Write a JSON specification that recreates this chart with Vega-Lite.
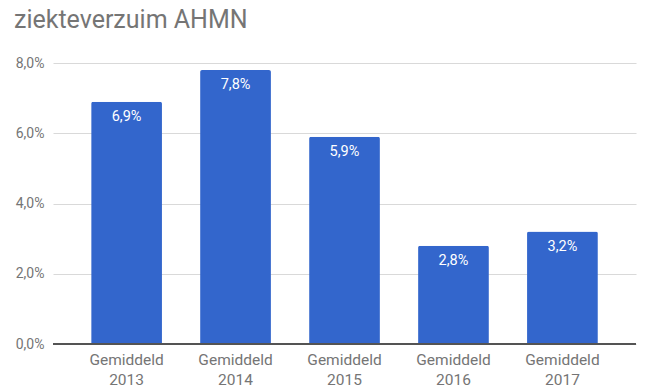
{
  "$schema": "https://vega.github.io/schema/vega-lite/v6.json",
  "width": 583,
  "height": 281,
  "autosize": "none",
  "padding": {"left": 53, "top": 63, "right": 23, "bottom": 48},
  "title": {
    "text": "ziekteverzuim AHMN",
    "anchor": "start",
    "frame": "group",
    "dx": -39,
    "offset": 23,
    "font": "Roboto",
    "fontSize": 25,
    "fontWeight": "normal",
    "color": "#757575"
  },
  "config": {
    "locale": {"number": {"decimal": ",", "thousands": ".", "grouping": [3], "currency": ["€", ""]}},
    "view": {"stroke": null},
    "font": "Roboto"
  },
  "data": {
    "values": [
      {"periode": "Gemiddeld 2013", "verzuim": 0.069},
      {"periode": "Gemiddeld 2014", "verzuim": 0.078},
      {"periode": "Gemiddeld 2015", "verzuim": 0.059},
      {"periode": "Gemiddeld 2016", "verzuim": 0.028},
      {"periode": "Gemiddeld 2017", "verzuim": 0.032}
    ]
  },
  "encoding": {
    "x": {
      "field": "periode",
      "type": "nominal",
      "sort": null,
      "scale": {"paddingInner": 0.35, "paddingOuter": 0.35},
      "axis": {
        "title": null,
        "labelAngle": 0,
        "labelExpr": "split(datum.label, ' ')",
        "labelFont": "Roboto",
        "labelFontSize": 15.5,
        "labelColor": "#757575",
        "labelLineHeight": 20,
        "labelPadding": 8,
        "ticks": false,
        "domain": false
      }
    },
    "y": {
      "field": "verzuim",
      "type": "quantitative",
      "scale": {"domain": [0, 0.08], "nice": false},
      "axis": {
        "title": null,
        "format": ".1%",
        "values": [0, 0.02, 0.04, 0.06, 0.08],
        "labelFont": "Roboto",
        "labelFontSize": 14,
        "labelColor": "#757575",
        "labelPadding": 9,
        "ticks": false,
        "domain": false,
        "gridColor": "#d9d9d9",
        "gridWidth": 1
      }
    }
  },
  "layer": [
    {
      "mark": {"type": "bar", "color": "#3366cc", "cornerRadiusTopLeft": 2, "cornerRadiusTopRight": 2}
    },
    {
      "mark": {"type": "rule", "color": "#555555", "strokeWidth": 1.5},
      "encoding": {"x": null, "y": {"datum": 0, "type": "quantitative"}}
    },
    {
      "mark": {"type": "text", "color": "white", "baseline": "alphabetic", "dy": 19, "fontSize": 14.5, "font": "Roboto"},
      "encoding": {"text": {"field": "verzuim", "type": "quantitative", "format": ".1%"}}
    }
  ]
}
